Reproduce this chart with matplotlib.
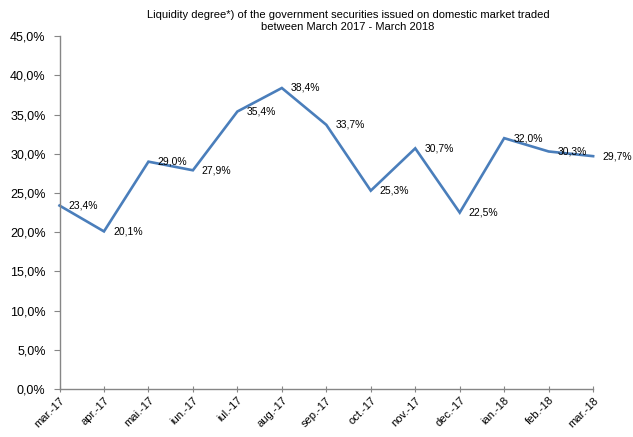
import matplotlib
matplotlib.use("Agg")
import matplotlib.pyplot as plt
from matplotlib.ticker import FuncFormatter

plt.rcParams['font.family'] = ['Liberation Sans', 'DejaVu Sans']

months = ["mar.-17", "apr.-17", "mai.-17", "iun.-17", "iul.-17", "aug.-17", "sep.-17",
          "oct.-17", "nov.-17", "dec.-17", "ian.-18", "feb.-18", "mar.-18"]
values = [23.4, 20.1, 29.0, 27.9, 35.4, 38.4, 33.7, 25.3, 30.7, 22.5, 32.0, 30.3, 29.7]

fig = plt.figure(figsize=(6.33, 4.37), dpi=100)
ax = fig.add_axes([0.094, 0.110, 0.843, 0.807])
x = list(range(len(months)))
ax.plot(x, values, color="#4A7EBB", lw=1.9, solid_joinstyle='miter', clip_on=False)

for xi, v in zip(x, values):
    ax.annotate(f"{v:.1f}%".replace('.', ','), (xi, v), xytext=(6.5, 0), textcoords='offset points',
                ha='left', va='center', fontsize=7.5, color='black')

ax.set_xlim(0, len(months) - 1)
ax.set_ylim(0, 45)
ax.set_yticks([i * 5 for i in range(10)])
ax.yaxis.set_major_formatter(FuncFormatter(lambda v, p: f"{v:.1f}%".replace('.', ',')))
ax.set_xticks(x)
ax.set_xticklabels(months, rotation=45, ha='right', rotation_mode='anchor', fontsize=8)
ax.tick_params(axis='y', labelsize=9, length=4, color='#868686', pad=6)
ax.tick_params(axis='x', length=5, direction='inout', color='#868686', pad=2)
for s in ['top', 'right']:
    ax.spines[s].set_visible(False)
for s in ['left', 'bottom']:
    ax.spines[s].set_color('#868686')
    ax.spines[s].set_linewidth(1)

fig.text(0.55, 0.952, "Liquidity degree*) of the government securities issued on domestic market traded\nbetween March 2017 - March 2018",
         ha='center', va='center', fontsize=8, linespacing=1.25)

fig.savefig("out.png", dpi=100)
